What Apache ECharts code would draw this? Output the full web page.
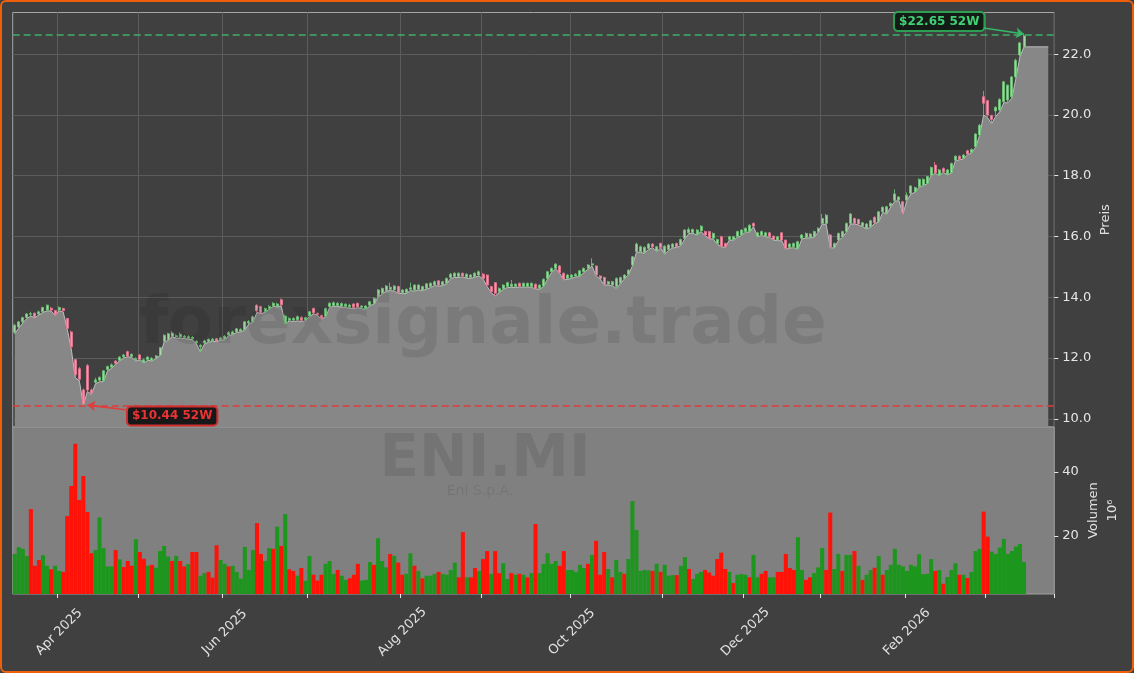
<!DOCTYPE html>
<html>
	<head>
		<meta charset="UTF-8">
		<title>ENI.MI</title>
		<script src="https://cdn.jsdelivr.net/npm/echarts@6.0.0/dist/echarts.min.js"></script>
		<style type="text/css">
			html, body{
				margin: 0;
				padding: 0;
				background: #404040;
			}
			#wrap{
				position: relative;
				width: 1134px;
				height: 673px;
			}
			#chart{
				position: absolute;
				left: 0;
				top: 0;
				width: 1134px;
				height: 673px;
			}
			#frame{
				position: absolute;
				left: 0;
				top: 0;
				width: 1134px;
				height: 673px;
				box-sizing: border-box;
				border: 2px solid #f0600a;
				border-radius: 6px;
				pointer-events: none;
			}
		</style>
	</head>
	<body>
		<div id="wrap">
			<div id="chart"></div>
			<div id="frame"></div>
		</div>
		<script>
		// trading days of Borsa Italiana, starting 17 Mar 2025
		var startDay = '2025-03-17';
		var holidays = ['2025-04-18', '2025-04-21', '2025-05-01', '2025-08-15', '2025-12-24',
			'2025-12-25', '2025-12-26', '2025-12-31', '2026-01-01'];
		var extraDays = 7;

		// [open, close, low, high]
		var ohlc = [
			[12.85,13.08,12.80,13.12],[13.02,13.19,12.98,13.22],[13.19,13.33,13.15,13.36],[13.33,13.45,13.30,13.48],[13.44,13.46,13.38,13.52],
			[13.47,13.35,13.32,13.50],[13.45,13.52,13.42,13.56],[13.52,13.66,13.50,13.69],[13.58,13.74,13.55,13.76],[13.64,13.58,13.55,13.68],
			[13.56,13.44,13.40,13.58],[13.58,13.66,13.55,13.70],[13.63,13.56,13.52,13.66],[13.30,12.98,12.95,13.32],[12.86,12.37,12.30,12.90],
			[11.95,11.45,11.35,11.95],[11.65,11.30,11.25,11.70],[10.95,10.50,10.44,11.00],[11.75,10.95,10.90,11.80],[10.95,10.85,10.80,11.00],
			[11.20,11.28,11.15,11.35],[11.27,11.36,11.22,11.40],[11.25,11.58,11.22,11.60],[11.62,11.72,11.58,11.75],[11.70,11.78,11.66,11.82],
			[11.90,11.83,11.80,11.93],[11.92,12.03,11.90,12.06],[12.04,12.10,12.00,12.13],[12.21,12.06,12.04,12.24],[12.05,12.12,12.02,12.15],
			[11.94,11.98,11.90,12.02],[12.10,11.96,11.94,12.13],[11.86,11.94,11.84,11.98],[11.95,12.03,11.93,12.06],[11.92,11.99,11.90,12.03],
			[12.00,12.07,11.98,12.10],[12.10,12.34,12.08,12.36],[12.55,12.75,12.52,12.78],[12.60,12.80,12.58,12.83],[12.72,12.82,12.70,12.88],
			[12.70,12.73,12.65,12.78],[12.70,12.78,12.66,12.84],[12.68,12.72,12.64,12.76],[12.65,12.70,12.62,12.75],[12.63,12.68,12.60,12.72],
			[12.50,12.55,12.46,12.58],[12.37,12.42,12.20,12.45],[12.50,12.56,12.46,12.60],[12.55,12.61,12.52,12.64],[12.57,12.62,12.55,12.66],
			[12.63,12.56,12.54,12.66],[12.60,12.66,12.58,12.70],[12.62,12.72,12.60,12.75],[12.76,12.84,12.74,12.88],[12.79,12.86,12.77,12.90],
			[12.86,12.96,12.84,12.99],[12.88,12.94,12.86,12.98],[12.94,13.19,12.92,13.22],[13.15,13.20,13.12,13.25],[13.20,13.36,13.18,13.40],
			[13.73,13.55,13.50,13.77],[13.69,13.49,13.46,13.72],[13.53,13.63,13.50,13.66],[13.62,13.70,13.60,13.74],[13.72,13.80,13.70,13.84],
			[13.70,13.78,13.68,13.82],[13.92,13.75,13.72,13.96],[13.15,13.38,13.12,13.43],[13.25,13.30,13.22,13.34],[13.25,13.30,13.20,13.34],
			[13.26,13.36,13.22,13.40],[13.34,13.24,13.20,13.37],[13.25,13.33,13.22,13.36],[13.38,13.52,13.36,13.55],[13.63,13.49,13.46,13.66],
			[13.47,13.42,13.40,13.50],[13.40,13.31,13.28,13.43],[13.38,13.63,13.36,13.66],[13.69,13.80,13.66,13.84],[13.72,13.82,13.70,13.86],
			[13.73,13.80,13.70,13.84],[13.71,13.79,13.68,13.83],[13.70,13.77,13.66,13.80],[13.67,13.74,13.64,13.78],[13.78,13.65,13.62,13.80],
			[13.80,13.68,13.66,13.82],[13.66,13.71,13.62,13.74],[13.62,13.71,13.60,13.74],[13.74,13.85,13.72,13.88],[13.80,13.96,13.78,14.00],
			[14.02,14.24,14.00,14.27],[14.13,14.29,14.10,14.32],[14.22,14.37,14.20,14.40],[14.26,14.33,14.22,14.48],[14.24,14.37,14.20,14.40],
			[14.35,14.15,14.13,14.38],[14.15,14.24,14.12,14.27],[14.15,14.26,14.12,14.29],[14.26,14.31,14.22,14.48],[14.24,14.40,14.20,14.43],
			[14.26,14.40,14.24,14.43],[14.24,14.35,14.22,14.38],[14.29,14.44,14.26,14.47],[14.35,14.46,14.32,14.49],[14.40,14.51,14.38,14.55],
			[14.54,14.40,14.37,14.56],[14.40,14.51,14.38,14.54],[14.46,14.62,14.44,14.65],[14.65,14.76,14.62,14.80],[14.68,14.79,14.65,14.82],
			[14.68,14.79,14.65,14.82],[14.79,14.70,14.67,14.81],[14.65,14.76,14.62,14.79],[14.65,14.73,14.62,14.76],[14.68,14.79,14.66,14.82],
			[14.73,14.84,14.70,14.88],[14.76,14.62,14.60,14.80],[14.73,14.40,14.36,14.75],[14.35,14.18,14.15,14.38],[14.48,14.13,14.04,14.50],
			[14.18,14.29,14.15,14.32],[14.29,14.40,14.26,14.43],[14.35,14.48,14.32,14.51],[14.35,14.43,14.32,14.57],[14.35,14.43,14.32,14.46],
			[14.46,14.35,14.33,14.48],[14.35,14.46,14.33,14.48],[14.35,14.46,14.33,14.48],[14.35,14.46,14.33,14.49],[14.43,14.29,14.27,14.45],
			[14.29,14.40,14.26,14.42],[14.37,14.59,14.35,14.62],[14.62,14.84,14.60,14.87],[14.84,14.95,14.82,14.98],[14.95,15.09,14.93,15.12],
			[15.03,14.81,14.78,15.06],[14.79,14.60,14.57,14.81],[14.62,14.73,14.59,14.76],[14.65,14.73,14.62,14.76],[14.70,14.76,14.67,14.79],
			[14.70,14.87,14.68,14.90],[14.84,14.95,14.82,14.98],[14.95,15.06,14.92,15.09],[15.06,15.10,15.03,15.28],[15.03,14.73,14.70,15.05],
			[14.70,14.62,14.60,14.73],[14.65,14.43,14.40,14.68],[14.43,14.51,14.40,14.54],[14.40,14.51,14.38,14.54],[14.35,14.62,14.29,14.65],
			[14.46,14.65,14.44,14.68],[14.62,14.73,14.60,14.76],[14.76,14.89,14.74,14.92],[15.06,15.33,15.03,15.36],[15.50,15.75,15.48,15.80],
			[15.50,15.66,15.48,15.70],[15.46,15.64,15.44,15.68],[15.61,15.75,15.58,15.78],[15.75,15.66,15.63,15.78],[15.53,15.66,15.50,15.69],
			[15.77,15.64,15.62,15.80],[15.46,15.68,15.42,15.71],[15.57,15.72,15.55,15.75],[15.64,15.75,15.62,15.78],[15.77,15.66,15.64,15.80],
			[15.72,15.90,15.70,15.93],[15.94,16.21,15.92,16.24],[16.12,16.23,16.10,16.30],[16.12,16.23,16.10,16.26],[16.08,16.21,16.05,16.24],
			[16.19,16.34,16.16,16.37],[16.16,16.05,16.03,16.19],[16.16,15.94,15.92,16.18],[15.94,16.10,15.92,16.13],[15.77,15.90,15.75,15.93],
			[15.99,15.68,15.66,16.02],[15.77,15.66,15.64,15.79],[15.90,15.99,15.88,16.02],[15.90,15.99,15.88,16.02],[15.99,16.16,15.97,16.19],
			[16.05,16.21,16.03,16.24],[16.16,16.27,16.14,16.30],[16.16,16.37,16.14,16.40],[16.43,16.34,16.32,16.46],[16.01,16.12,15.99,16.15],
			[16.05,16.16,16.03,16.19],[16.01,16.12,15.99,16.15],[16.12,15.99,15.97,16.15],[16.01,15.90,15.88,16.03],[15.88,15.99,15.86,16.02],
			[16.12,15.88,15.86,16.15],[15.88,15.61,15.58,15.90],[15.64,15.75,15.62,15.78],[15.66,15.77,15.63,15.80],[15.61,15.83,15.58,15.86],
			[15.94,16.05,15.92,16.08],[15.97,16.10,15.95,16.13],[15.97,16.08,15.95,16.11],[15.99,16.16,15.97,16.19],[16.16,16.27,16.14,16.30],
			[16.43,16.59,16.40,16.74],[16.43,16.70,16.40,16.74],[16.05,15.66,15.63,16.08],[15.64,15.77,15.62,15.80],[15.88,16.10,15.86,16.13],
			[15.99,16.16,15.97,16.19],[16.16,16.43,16.14,16.46],[16.43,16.74,16.41,16.77],[16.59,16.43,16.41,16.62],[16.56,16.41,16.38,16.58],
			[16.34,16.45,16.32,16.48],[16.27,16.41,16.25,16.44],[16.32,16.52,16.30,16.55],[16.63,16.45,16.43,16.66],[16.49,16.81,16.47,16.84],
			[16.81,16.96,16.79,16.99],[16.76,16.98,16.74,17.01],[17.00,17.09,16.97,17.12],[17.18,17.40,17.16,17.55],[17.20,17.30,17.18,17.33],
			[17.14,16.80,16.74,17.17],[17.20,17.36,17.18,17.45],[17.42,17.66,17.40,17.69],[17.47,17.61,17.45,17.64],[17.64,17.88,17.62,17.91],
			[17.69,17.88,17.67,17.91],[17.75,17.97,17.73,18.00],[18.02,18.27,18.00,18.30],[18.35,18.10,18.08,18.45],[18.02,18.19,18.00,18.22],
			[18.24,18.13,18.11,18.27],[18.05,18.19,18.03,18.22],[18.10,18.40,18.08,18.43],[18.51,18.64,18.49,18.67],[18.64,18.54,18.52,18.67],
			[18.57,18.68,18.55,18.71],[18.82,18.71,18.69,18.85],[18.76,18.86,18.74,18.90],[18.95,19.37,18.93,19.40],[19.34,19.66,19.32,19.70],
			[20.60,20.38,20.00,20.79],[20.47,20.00,19.90,20.50],[19.98,19.85,19.72,20.00],[20.13,20.25,19.95,20.28],[20.16,20.51,20.10,20.55],
			[20.43,21.09,20.40,21.12],[20.49,20.98,20.40,21.00],[20.60,21.25,20.55,21.28],[21.25,21.80,21.20,21.85],[21.97,22.37,21.92,22.40],
			[22.24,22.60,22.24,22.65]
		];

		// the grey area keeps going a few days after the last candle
		var areaTail = [22.24, 22.24, 22.24, 22.24, 22.24, 22.24];

		// volume in millions, and its colour (g = up day, r = down day)
		var volumes = [
			14.4,16.5,16.0,13.8,28.4,10.7,12.5,14.0,10.7,9.6,
			10.7,9.1,8.8,26.2,35.6,48.8,31.2,38.7,27.5,14.6,
			15.6,25.8,16.2,10.5,10.5,15.6,12.7,10.3,12.2,10.7,
			19.0,15.0,12.9,10.7,11.0,10.1,15.3,16.9,13.6,12.2,
			13.8,12.2,10.5,11.2,15.0,15.0,7.6,8.4,8.8,7.0,
			17.1,12.5,11.3,10.5,10.7,8.8,6.7,16.6,9.4,15.6,
			24.0,14.4,12.2,16.2,16.0,22.9,16.9,26.8,9.6,9.1,
			7.6,10.0,6.0,13.8,7.9,6.1,7.9,11.3,12.2,8.2,
			9.4,7.6,6.3,6.8,7.9,11.3,6.1,6.3,11.9,11.0,
			19.3,12.2,10.2,14.4,13.8,11.7,7.9,8.2,14.6,10.7,
			9.1,6.8,7.6,7.6,8.2,8.8,8.2,7.9,9.4,11.7,
			7.1,21.2,7.1,7.1,10.0,9.1,12.8,15.3,8.2,15.3,
			8.4,11.5,6.6,8.4,7.9,8.2,7.9,7.1,8.4,23.7,
			8.4,11.3,14.6,11.3,12.2,10.7,15.3,9.4,9.4,8.8,
			11.0,10.0,11.3,14.1,18.5,7.9,15.0,9.7,7.1,12.5,
			8.8,8.2,12.8,30.9,21.9,9.1,9.4,9.3,9.1,11.3,
			8.8,11.0,7.6,7.8,7.8,10.7,13.4,9.7,6.6,8.2,
			8.8,9.4,8.6,7.6,12.8,14.8,9.7,8.8,5.3,7.9,
			8.1,7.9,7.1,14.1,7.1,8.2,9.1,7.1,7.1,8.8,
			8.8,14.4,10.0,9.4,19.6,9.4,6.3,7.1,8.4,10.2,
			16.2,9.4,27.3,9.7,14.4,9.1,14.1,14.1,15.3,10.7,
			6.3,7.9,9.4,10.1,13.8,7.9,9.4,11.0,16.0,11.0,
			10.5,9.1,11.0,10.5,14.3,8.1,8.2,12.8,9.1,9.4,
			5.1,7.2,9.4,11.5,7.9,7.9,6.9,8.8,15.3,16.0,
			27.6,19.8,15.1,14.4,16.4,19.1,14.4,15.3,16.7,17.5,11.9
		];
		var volDir = 'ggggrrrggr' + 'ggrrrrrrrr' + 'gggggrgrrr' + 'grrgrggggr' + 'grrgrrggrr' +
			'rggrgggggg' + 'rrggrgrgrr' + 'grggrrrggg' + 'rggrrrgggr' + 'gggrgrrggr' +
			'grgggrgggg' + 'rrgrrgrrgr' + 'rggrgrgrgr' + 'gggggrrggg' + 'ggrgrrrgrg' +
			'grggggggrg' + 'rgggrggrgg' + 'grrrrrrgrg' + 'ggrggrrggr' + 'rrrrggrrgg' +
			'grrggrggrg' + 'rggrgrgggg' + 'ggggggggrg' + 'rgggrgrggg' + 'rrggggggggg';

		var priceTicks = [10, 12, 14, 16, 18, 20, 22];
		var volTicks = [20, 40];
		var low52 = 10.44;
		var high52 = 22.65;
		var monthNames = ['Jan', 'Feb', 'Mar', 'Apr', 'May', 'Jun', 'Jul', 'Aug', 'Sep', 'Oct', 'Nov', 'Dec'];

		function tradingDays(start, n){
			var out = [];
			var d = new Date(start + 'T00:00:00Z');
			while(out.length < n){
				var s = d.toISOString().slice(0, 10);
				var wd = d.getUTCDay();
				if(wd !== 0 && wd !== 6 && holidays.indexOf(s) < 0){
					out.push(s);
				}
				d.setUTCDate(d.getUTCDate() + 1);
			}
			return out;
		}

		var days = tradingDays(startDay, ohlc.length + extraDays);

		function monthStart(i){
			return i > 0 && days[i].slice(0, 7) !== days[i - 1].slice(0, 7);
		}
		function labelMonth(i){
			return monthStart(i) && parseInt(days[i].slice(5, 7), 10) % 2 === 0;
		}

		var areaData = ohlc.map(function(r){ return r[2]; }).concat(areaTail);
		var volData = volumes.map(function(v, i){
			return {value: v, itemStyle: {color: volDir.charAt(i) === 'g' ? '#1c961c' : '#ff1208'}};
		});

		var redLine = {color: '#e23c3c', type: 'solid', width: 1.6};
		var greenLine = {color: '#36b866', type: 'solid', width: 1.6};

		var myChart = echarts.init(document.getElementById('chart'));
		var option = {
			animation: false,
			backgroundColor: '#404040',
			textStyle: {fontFamily: 'DejaVu Sans'},
			grid: [
				{left: 12.7, top: 12.5, width: 1041.6, height: 414.5, show: true, borderColor: '#a6a6a6', borderWidth: 1},
				{left: 12.7, top: 427, width: 1041.6, height: 167, show: true, borderColor: '#a0a0a0', borderWidth: 1, backgroundColor: '#808080'}
			],
			xAxis: [
				{
					type: 'category', gridIndex: 0, data: days, boundaryGap: true,
					axisLine: {show: false}, axisTick: {show: false}, axisLabel: {show: false},
					splitLine: {show: true, interval: monthStart, lineStyle: {color: '#5c5c5c', width: 1}}
				},
				{
					type: 'category', gridIndex: 1, data: days, boundaryGap: true,
					axisLine: {show: false},
					axisTick: {show: true, interval: monthStart, length: 4, lineStyle: {color: '#e6e6e6'}},
					axisLabel: {
						interval: labelMonth, rotate: 45, color: '#e0e0e0', fontSize: 13, margin: 38,
						align: 'center', verticalAlign: 'middle',
						formatter: function(v){
							return monthNames[parseInt(v.slice(5, 7), 10) - 1] + ' ' + v.slice(0, 4);
						}
					},
					splitLine: {show: false}
				}
			],
			yAxis: [
				{
					type: 'value', gridIndex: 0, position: 'right', min: 9.73, max: 23.37, splitNumber: 7,
					axisLine: {show: false},
					axisTick: {show: true, length: 4, customValues: priceTicks, lineStyle: {color: '#e6e6e6'}},
					axisLabel: {
						color: '#e6e6e6', fontSize: 13, margin: 8, customValues: priceTicks,
						formatter: function(v){ return v.toFixed(1); }
					},
					splitLine: {show: true, lineStyle: {color: '#5c5c5c', width: 1}},
					name: 'Preis', nameLocation: 'middle', nameRotate: 90, nameGap: 45, nameMoveOverlap: false,
					nameTextStyle: {color: '#e0e0e0', fontSize: 13}
				},
				{
					type: 'value', gridIndex: 1, position: 'right', min: 1.9, max: 54, splitNumber: 3,
					axisLine: {show: false},
					axisTick: {show: true, length: 4, customValues: volTicks, lineStyle: {color: '#e6e6e6'}},
					axisLabel: {color: '#e6e6e6', fontSize: 13, margin: 8, customValues: volTicks},
					splitLine: {show: false},
					name: 'Volumen\n10⁶', nameLocation: 'middle', nameRotate: 90, nameGap: 30, nameMoveOverlap: false,
					nameTextStyle: {color: '#e0e0e0', fontSize: 13, lineHeight: 19}
				}
			],
			series: [
				{
					name: 'area', type: 'line', xAxisIndex: 0, yAxisIndex: 0, data: areaData,
					symbol: 'none', silent: true, z: 2,
					lineStyle: {color: '#bdbdbd', width: 1},
					areaStyle: {color: '#878787', opacity: 1},
					// arrows from the 52W boxes to the extremes
					markLine: {
						silent: true, animation: false, symbol: ['none', 'arrow'], symbolSize: 8,
						label: {show: false}, z: 6,
						data: [
							[{coord: [28.1, 10.29], lineStyle: redLine}, {coord: [18.1, 10.45], lineStyle: redLine}],
							[{coord: [239.9, 22.86], lineStyle: greenLine}, {coord: [250, 22.66], lineStyle: greenLine}]
						]
					}
				},
				{
					name: 'ENI.MI', type: 'candlestick', xAxisIndex: 0, yAxisIndex: 0, data: ohlc,
					barWidth: '62%', z: 3, silent: true,
					itemStyle: {
						color: '#b4ecb4', color0: '#f9b4c6',
						borderColor: '#6cc276', borderColor0: '#e77592', borderWidth: 1, opacity: 0.85
					},
					markLine: {
						silent: true, animation: false, symbol: ['none', 'none'],
						label: {show: false},
						data: [
							{yAxis: low52, lineStyle: {color: '#e23c3c', type: [7, 4], width: 1.6}},
							{yAxis: high52, lineStyle: {color: '#3fae68', type: [7, 4], width: 1.6}}
						]
					},
					markPoint: {
						silent: true, animation: false,
						data: [
							{
								coord: [39.2, 10.09], symbol: 'rect', symbolSize: 1,
								itemStyle: {color: 'rgba(0,0,0,0)'},
								label: {
									show: true, position: 'inside', formatter: '$10.44 52W',
									color: '#e83434', fontWeight: 'bold', fontSize: 12,
									backgroundColor: '#181818', borderColor: '#cf2f2f', borderWidth: 2,
									borderRadius: 3, padding: [3, 4, 2, 4]
								}
							},
							{
								coord: [228.5, 23.07], symbol: 'rect', symbolSize: 1,
								itemStyle: {color: 'rgba(0,0,0,0)'},
								label: {
									show: true, position: 'inside', formatter: '$22.65 52W',
									color: '#3ed274', fontWeight: 'bold', fontSize: 12,
									backgroundColor: '#141a16', borderColor: '#2e9e52', borderWidth: 2,
									borderRadius: 3, padding: [3, 4, 2, 4]
								}
							}
						]
					}
				},
				{
					name: 'Volumen', type: 'bar', xAxisIndex: 1, yAxisIndex: 1, data: volData,
					barCategoryGap: '0%', silent: true
				}
			],
			graphic: [
				{
					type: 'text', x: 483, y: 326, z: 100, silent: true,
					style: {text: 'forexsignale.trade', font: 'bold 66px "DejaVu Sans"', fill: 'rgba(0,0,0,0.09)', align: 'center', verticalAlign: 'middle'}
				},
				{
					type: 'text', x: 485, y: 461, z: 100, silent: true,
					style: {text: 'ENI.MI', font: 'bold 58px "DejaVu Sans"', fill: 'rgba(0,0,0,0.09)', align: 'center', verticalAlign: 'middle'}
				},
				{
					type: 'text', x: 480, y: 491, z: 100, silent: true,
					style: {text: 'Eni S.p.A.', font: '14px "DejaVu Sans"', fill: 'rgba(0,0,0,0.09)', align: 'center', verticalAlign: 'middle'}
				}
			]
		};
		myChart.setOption(option);
		</script>
	</body>
</html>
